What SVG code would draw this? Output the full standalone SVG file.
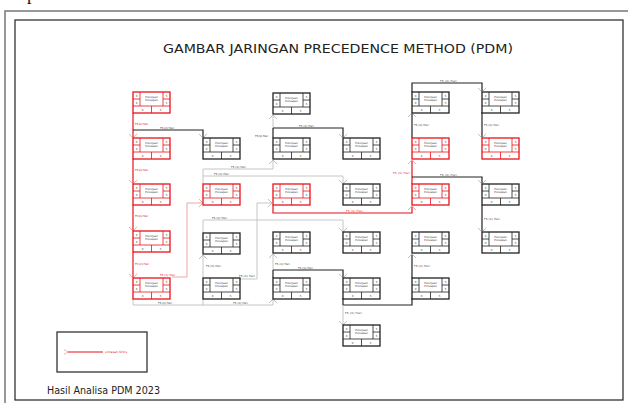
<svg xmlns="http://www.w3.org/2000/svg" xmlns:xlink="http://www.w3.org/1999/xlink" width="628" height="403" viewBox="0 0 628 403">
<style>
  text { font-family: "DejaVu Sans", Verdana, sans-serif; }
  .red { color: #e8121b; }
  .blk { color: #222222; }
  .nt { font-size: 2.6px; fill: #333; text-anchor: middle; }
  .lbl { font-size: 2.8px; fill: #444; }
  .lblr { font-size: 2.8px; fill: #e8121b; }
  .cg { stroke: #c6c6c6; stroke-width: 1; fill: none; }
  .ck { stroke: #222; stroke-width: 1.2; fill: none; }
  .cr { stroke: #e8121b; stroke-width: 1.2; fill: none; }
  .cp { stroke: #f2a3a3; stroke-width: 1; fill: none; }
</style>
<defs>
  <marker id="ag" viewBox="0 0 5 9" refX="4.6" refY="4.5" markerWidth="5" markerHeight="9" markerUnits="userSpaceOnUse" orient="auto" preserveAspectRatio="none">
    <path d="M0.4,0.4 L4.6,4.5 L0.4,8.6" fill="none" stroke="#b8b8b8" stroke-width="0.9"/>
  </marker>
  <marker id="ap" viewBox="0 0 5 9" refX="4.6" refY="4.5" markerWidth="5" markerHeight="9" markerUnits="userSpaceOnUse" orient="auto" preserveAspectRatio="none">
    <path d="M0.4,0.4 L4.6,4.5 L0.4,8.6" fill="none" stroke="#f0a0a0" stroke-width="0.9"/>
  </marker>
  <g id="box">
    <rect x="0" y="0" width="37" height="21" fill="#fff" stroke="currentColor" stroke-width="1.3"/>
    <path d="M0,14 H37 M7,0 V14 M30,0 V14 M0,7 H7 M30,7 H37 M18.5,14 V21" stroke="currentColor" stroke-width="0.8" fill="none"/>
    <text class="nt" x="3.5" y="4.6">0</text>
    <text class="nt" x="3.5" y="11.6">0</text>
    <text class="nt" x="33.5" y="4.6">5</text>
    <text class="nt" x="33.5" y="11.6">5</text>
    <text class="nt" x="9.5" y="18.6">0</text>
    <text class="nt" x="27.5" y="18.6">5</text>
    <text class="nt" x="18.5" y="5.5">Pekerjaan</text>
    <text class="nt" x="18.5" y="8.6">Persiapan</text>
  </g>
</defs>

<rect width="628" height="403" fill="#fff"/>
<text x="27" y="-0.5" font-family="Liberation Serif, serif" font-size="18" fill="#111" style="font-family:'Liberation Serif', serif">p</text>
<rect x="5" y="11" width="640" height="400" fill="none" stroke="#777" stroke-width="1.5"/>
<rect x="15" y="20" width="608" height="380" fill="none" stroke="#222" stroke-width="1.2"/>

<text x="163" y="53" font-size="12" fill="#222" textLength="350" lengthAdjust="spacingAndGlyphs">GAMBAR JARINGAN PRECEDENCE METHOD (PDM)</text>

<g id="connectors">
  <!-- critical (red) column A -->
  <path class="cr" d="M133,113 V138" marker-end="url(#ap)"/>
  <path class="cr" d="M133,159 V184" marker-end="url(#ap)"/>
  <path class="cr" d="M133,205 V231" marker-end="url(#ap)"/>
  <path class="cr" d="M133,252 V278" marker-end="url(#ap)"/>
  <text class="lblr" x="135" y="125" textLength="13">FS (0) Hari</text>
  <text class="lblr" x="135" y="171" textLength="13">FS (0) Hari</text>
  <text class="lblr" x="135" y="217" textLength="13">FS (0) Hari</text>
  <text class="lblr" x="135" y="265" textLength="14">FS (0) Hari</text>

  <!-- A2 -> B2 -->
  <path class="ck" d="M133,130 H203 V138" marker-end="url(#ag)"/>
  <text class="lbl" x="160" y="128.5" textLength="14">FS (0) Hari</text>

  <!-- A5 -> B3 -->
  <path class="cp" d="M172,277 H187 V203 H203" marker-end="url(#ap)"/>
  <text class="lblr" x="160" y="275.5" textLength="15">FS (0) Hari</text>

  <!-- B3 -> C2, B3 -> D3 -->
  <path class="cg" d="M203,184 V169 H273 V160" marker-end="url(#ag)"/>
  <path class="cg" d="M203,176 H343 V184" marker-end="url(#ag)"/>
  <text class="lbl" x="231" y="167.5" textLength="15">FS (0) Hari</text>
  <text class="lbl" x="214" y="174.5" textLength="15">FS (0) Hari</text>

  <!-- C2 -> C1, C2 -> D2 -->
  <path class="ck" d="M273,138 V128"/>
  <path class="cg" d="M273,128 V115" marker-end="url(#ag)"/>
  <path class="ck" d="M273,128 H343 V138" marker-end="url(#ag)"/>
  <text class="lbl" x="255" y="137" textLength="13">FS (0) Hari</text>
  <text class="lbl" x="299" y="126.5" textLength="15">FS (0) Hari</text>

  <!-- B4 -> D4 -->
  <path class="cg" d="M203,233 V220 H343 V232" marker-end="url(#ag)"/>
  <text class="lbl" x="212" y="218.5" textLength="15">FS (0) Hari</text>

  <!-- B5 -> B4 -->
  <path class="cg" d="M203,278 V255" marker-end="url(#ag)"/>
  <text class="lbl" x="206" y="267" textLength="15">FS (0) Hari</text>

  <!-- B5 -> C3 -->
  <path class="cg" d="M240,279 H257 V203 H272" marker-end="url(#ag)"/>
  <text class="lbl" x="239" y="277" textLength="16">FS (0) Hari</text>

  <!-- C5 -> C4, C5 -> D5 -->
  <path class="ck" d="M273,278 V270"/>
  <path class="cg" d="M273,270 V254" marker-end="url(#ag)"/>
  <path class="ck" d="M273,270 H343 V278" marker-end="url(#ag)"/>
  <text class="lbl" x="275" y="265" textLength="15">FS (0) Hari</text>
  <text class="lbl" x="298" y="268.5" textLength="15">FS (0) Hari</text>

  <!-- A5/B5 -> C5 -->
  <path class="cg" d="M133,298 V305 H273 V299" marker-end="url(#ag)"/>
  <path class="cg" d="M203,298 V305"/>
  <text class="lbl" x="158" y="303.5" textLength="14">FS (0) Hari</text>
  <text class="lbl" x="233" y="303.5" textLength="15">FS (0) Hari</text>

  <!-- C3 -> E3 (critical) -->
  <path class="cr" d="M273,205 V213 H412 V206" marker-end="url(#ap)"/>
  <text class="lblr" x="346" y="212" textLength="17">FS (0) Hari</text>

  <!-- E3 -> E2 (critical) -->
  <path class="cr" d="M412,184 V160" marker-end="url(#ap)"/>
  <text class="lblr" x="393" y="174" textLength="17">FS (0) Hari</text>

  <!-- E3 -> F3 -->
  <path class="ck" d="M412,177 H482 V184" marker-end="url(#ag)"/>
  <text class="lbl" x="440" y="175.5" textLength="17">FS (0) Hari</text>

  <!-- E2 -> E1 -->
  <path class="ck" d="M412,138 V113" marker-end="url(#ag)"/>
  <text class="lbl" x="414" y="126" textLength="15">FS (0) Hari</text>

  <!-- E1 -> F1 -->
  <path class="ck" d="M412,92 V83 H482 V92" marker-end="url(#ag)"/>
  <text class="lbl" x="440" y="82" textLength="17">FS (0) Hari</text>

  <!-- F1 -> F2 -->
  <path class="ck" d="M482,112 V138" marker-end="url(#ag)"/>
  <text class="lbl" x="484" y="126" textLength="15">FS (0) Hari</text>

  <!-- F3 -> F4 -->
  <path class="ck" d="M482,205 V232" marker-end="url(#ag)"/>
  <text class="lbl" x="484" y="220" textLength="16">FS (0) Hari</text>

  <!-- E5 -> E4 -->
  <path class="ck" d="M412,278 V254" marker-end="url(#ag)"/>
  <text class="lbl" x="414" y="267" textLength="16">FS (0) Hari</text>

  <!-- D5/E5 -> D6 -->
  <path class="ck" d="M412,298 V305 H343 V298"/>
  <path class="cg" d="M343,305 V325" marker-end="url(#ag)"/>
  <text class="lbl" x="345" y="314" textLength="17">FS (0) Hari</text>
</g>

<g id="A1" class="red" transform="translate(133,92)"><use xlink:href="#box" href="#box"/></g>
<g id="A2" class="red" transform="translate(133,138)"><use xlink:href="#box" href="#box"/></g>
<g id="A3" class="red" transform="translate(133,184)"><use xlink:href="#box" href="#box"/></g>
<g id="A4" class="red" transform="translate(133,231)"><use xlink:href="#box" href="#box"/></g>
<g id="A5" class="red" transform="translate(133,278)"><use xlink:href="#box" href="#box"/></g>

<g id="B2" class="blk" transform="translate(203,138)"><use xlink:href="#box" href="#box"/></g>
<g id="B3" class="red" transform="translate(203,184)"><use xlink:href="#box" href="#box"/></g>
<g id="B4" class="blk" transform="translate(203,233)"><use xlink:href="#box" href="#box"/></g>
<g id="B5" class="blk" transform="translate(203,278)"><use xlink:href="#box" href="#box"/></g>

<g id="C1" class="blk" transform="translate(273,93)"><use xlink:href="#box" href="#box"/></g>
<g id="C2" class="blk" transform="translate(273,138)"><use xlink:href="#box" href="#box"/></g>
<g id="C3" class="red" transform="translate(273,184)"><use xlink:href="#box" href="#box"/></g>
<g id="C4" class="blk" transform="translate(273,232)"><use xlink:href="#box" href="#box"/></g>
<g id="C5" class="blk" transform="translate(273,278)"><use xlink:href="#box" href="#box"/></g>

<g id="D2" class="blk" transform="translate(343,138)"><use xlink:href="#box" href="#box"/></g>
<g id="D3" class="blk" transform="translate(343,184)"><use xlink:href="#box" href="#box"/></g>
<g id="D4" class="blk" transform="translate(343,232)"><use xlink:href="#box" href="#box"/></g>
<g id="D5" class="blk" transform="translate(343,278)"><use xlink:href="#box" href="#box"/></g>
<g id="D6" class="blk" transform="translate(343,325)"><use xlink:href="#box" href="#box"/></g>

<g id="E1" class="blk" transform="translate(412,92)"><use xlink:href="#box" href="#box"/></g>
<g id="E2" class="red" transform="translate(412,138)"><use xlink:href="#box" href="#box"/></g>
<g id="E3" class="red" transform="translate(412,184)"><use xlink:href="#box" href="#box"/></g>
<g id="E4" class="blk" transform="translate(412,232)"><use xlink:href="#box" href="#box"/></g>
<g id="E5" class="blk" transform="translate(412,278)"><use xlink:href="#box" href="#box"/></g>

<g id="F1" class="blk" transform="translate(482,92)"><use xlink:href="#box" href="#box"/></g>
<g id="F2" class="red" transform="translate(482,138)"><use xlink:href="#box" href="#box"/></g>
<g id="F3" class="blk" transform="translate(482,184)"><use xlink:href="#box" href="#box"/></g>
<g id="F4" class="blk" transform="translate(482,232)"><use xlink:href="#box" href="#box"/></g>

<g id="legend">
  <rect x="57" y="332" width="90" height="40" fill="none" stroke="#222" stroke-width="1.2"/>
  <path d="M68,352 H103" stroke="#e8121b" stroke-width="1"/>
  <path d="M64,349.5 L68,352 L64,354.5" fill="none" stroke="#f0a0a0" stroke-width="0.8"/>
  <text x="105" y="353" font-size="3" fill="#e8121b" textLength="22">Lintasan Kritis</text>
</g>

<text x="47" y="394" font-size="10" fill="#222" textLength="113" lengthAdjust="spacingAndGlyphs">Hasil Analisa PDM 2023</text>
</svg>
